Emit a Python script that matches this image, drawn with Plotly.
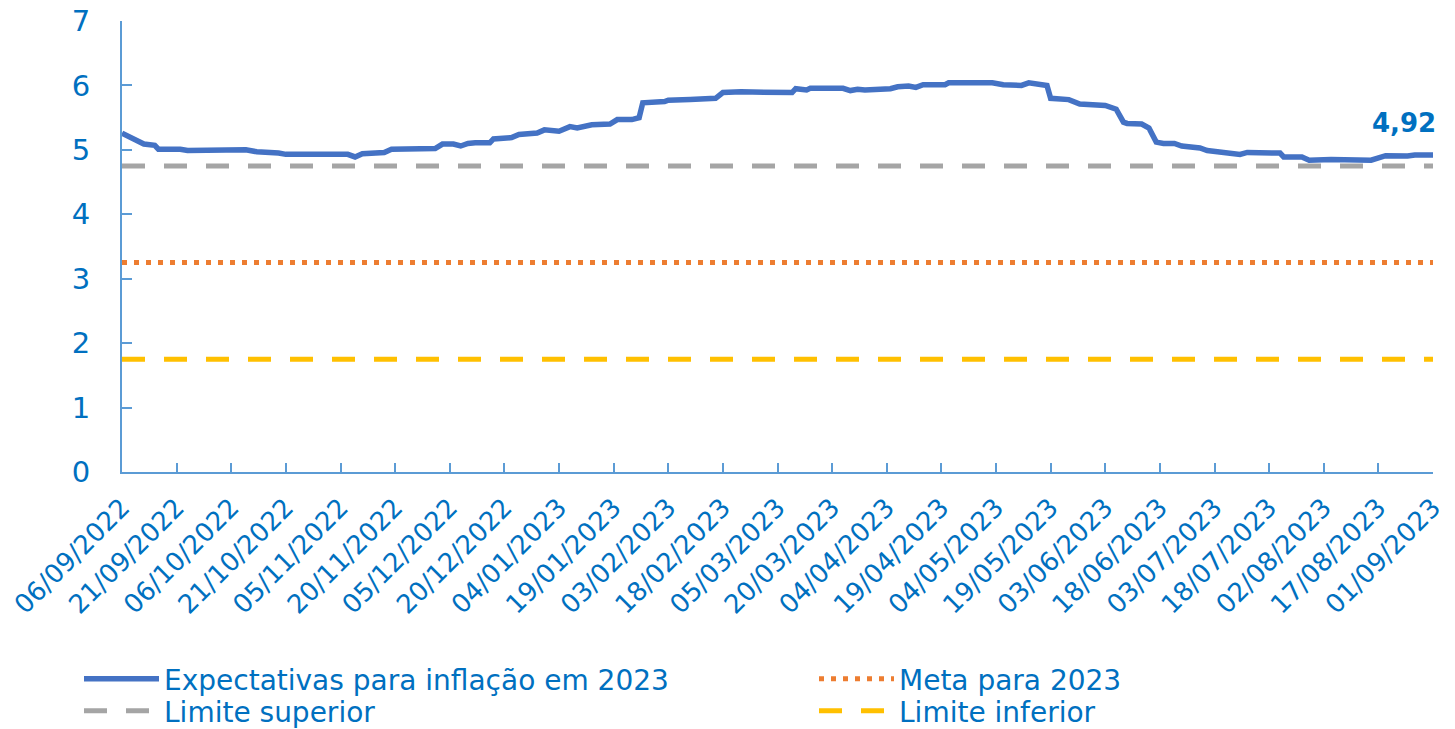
import plotly.graph_objects as go

# ---- data ----
dates = [
    "2022-09-06", "2022-09-12", "2022-09-15", "2022-09-16", "2022-09-22", "2022-09-24",
    "2022-10-10", "2022-10-13", "2022-10-19", "2022-10-21", "2022-11-07", "2022-11-09",
    "2022-11-11", "2022-11-17", "2022-11-19", "2022-12-01", "2022-12-03", "2022-12-06",
    "2022-12-08", "2022-12-10", "2022-12-12", "2022-12-16", "2022-12-17", "2022-12-20",
    "2022-12-22", "2022-12-24", "2022-12-29", "2022-12-31", "2023-01-04", "2023-01-07",
    "2023-01-09", "2023-01-13", "2023-01-18", "2023-01-20", "2023-01-24", "2023-01-26",
    "2023-01-27", "2023-02-02", "2023-02-03", "2023-02-09", "2023-02-14", "2023-02-16",
    "2023-02-18", "2023-02-23", "2023-03-09", "2023-03-10", "2023-03-13", "2023-03-14",
    "2023-03-23", "2023-03-25", "2023-03-27", "2023-03-29", "2023-04-05", "2023-04-07",
    "2023-04-10", "2023-04-12", "2023-04-14", "2023-04-20", "2023-04-21", "2023-04-27",
    "2023-04-28", "2023-05-03", "2023-05-06", "2023-05-11", "2023-05-13", "2023-05-18",
    "2023-05-19", "2023-05-24", "2023-05-27", "2023-05-31", "2023-06-03", "2023-06-06",
    "2023-06-08", "2023-06-09", "2023-06-13", "2023-06-15", "2023-06-17", "2023-06-19",
    "2023-06-22", "2023-06-24", "2023-06-29", "2023-07-01", "2023-07-05", "2023-07-10",
    "2023-07-12", "2023-07-21", "2023-07-22", "2023-07-27", "2023-07-29", "2023-08-04",
    "2023-08-15", "2023-08-17", "2023-08-19", "2023-08-25", "2023-08-27", "2023-09-01",
]
expectativas = [
    5.26, 5.09, 5.07, 5.01, 5.01, 4.99,
    5.00, 4.97, 4.95, 4.93, 4.93, 4.89,
    4.94, 4.96, 5.01, 5.02, 5.09, 5.09,
    5.06, 5.10, 5.11, 5.11, 5.17, 5.19,
    5.19, 5.24, 5.26, 5.31, 5.29, 5.36,
    5.34, 5.39, 5.40, 5.47, 5.47, 5.50,
    5.73, 5.75, 5.77, 5.78, 5.79, 5.80,
    5.89, 5.90, 5.89, 5.95, 5.93, 5.955,
    5.955, 5.92, 5.94, 5.93, 5.95, 5.98,
    5.99, 5.97, 6.01, 6.01, 6.04, 6.04,
    6.05, 6.04, 6.01, 6.00, 6.04, 6.00,
    5.80, 5.78, 5.71, 5.71, 5.69, 5.63,
    5.43, 5.41, 5.40, 5.34, 5.12, 5.10,
    5.10, 5.06, 5.03, 4.99, 4.97, 4.93,
    4.96, 4.95, 4.89, 4.89, 4.84, 4.85,
    4.84, 4.87, 4.91, 4.905, 4.92, 4.92,
]
periodo = ["2022-09-06", "2023-09-01"]
meta = [3.25, 3.25]
limite_superior = [4.75, 4.75]
limite_inferior = [1.75, 1.75]

tick_dates = [
    "2022-09-06", "2022-09-21", "2022-10-06", "2022-10-21", "2022-11-05", "2022-11-20",
    "2022-12-05", "2022-12-20", "2023-01-04", "2023-01-19", "2023-02-03", "2023-02-18",
    "2023-03-05", "2023-03-20", "2023-04-04", "2023-04-19", "2023-05-04", "2023-05-19",
    "2023-06-03", "2023-06-18", "2023-07-03", "2023-07-18", "2023-08-02", "2023-08-17",
    "2023-09-01",
]
tick_labels = [f"{d[8:10]}/{d[5:7]}/{d[0:4]}" for d in tick_dates]

FONT = "DejaVu Sans"
TXT = "#0070C0"
AX = "#5B9BD5"

W, H = 1455, 729
ML, MR, MT = 122, 22, 21
PH = 451
MB = H - MT - PH
PW = W - ML - MR


def px_to_paper_x(px):
    return (px - ML) / PW


def px_to_paper_y(py):
    return (H - MB - py) / PH


fig = go.Figure()
fig.add_trace(go.Scatter(x=dates, y=expectativas, mode="lines",
                         name="Expectativas para inflação em 2023", showlegend=True,
                         line=dict(color="#4472C4", width=5.5), legend="legend"))
fig.add_trace(go.Scatter(x=periodo, y=meta, mode="lines",
                         name="Meta para 2023", showlegend=True,
                         line=dict(color="#ED7D31", width=5, dash="5px,7px"), legend="legend2"))
fig.add_trace(go.Scatter(x=periodo, y=limite_superior, mode="lines",
                         name="Limite superior", showlegend=True,
                         line=dict(color="#A5A5A5", width=5, dash="23px,19px"), legend="legend3"))
fig.add_trace(go.Scatter(x=periodo, y=limite_inferior, mode="lines",
                         name="Limite inferior", showlegend=True,
                         line=dict(color="#FFC000", width=5, dash="23px,19px"), legend="legend4"))

fig.add_annotation(x=dates[-1], y=expectativas[-1],
                   text=f"<b>{expectativas[-1]:.2f}".replace(".", ",") + "</b>",
                   showarrow=False, xanchor="right", yanchor="bottom",
                   xshift=5, yshift=15, font=dict(family=FONT, size=26, color=TXT))

legend_common = dict(font=dict(family=FONT, size=28, color=TXT), bgcolor="rgba(0,0,0,0)",
                     orientation="v", xanchor="left", yanchor="top",
                     itemwidth=75, tracegroupgap=0, visible=True)
COL1, COL2 = 79, 814
ROW1, ROW2 = 654, 686
fig.update_layout(
    width=W, height=H,
    showlegend=True,
    margin=dict(l=ML, r=MR, t=MT, b=MB, autoexpand=False),
    plot_bgcolor="white", paper_bgcolor="white",
    font=dict(family=FONT, color=TXT),
    legend=dict(x=px_to_paper_x(COL1), y=px_to_paper_y(ROW1), **legend_common),
    legend2=dict(x=px_to_paper_x(COL2), y=px_to_paper_y(ROW1), **legend_common),
    legend3=dict(x=px_to_paper_x(COL1), y=px_to_paper_y(ROW2), **legend_common),
    legend4=dict(x=px_to_paper_x(COL2), y=px_to_paper_y(ROW2), **legend_common),
    xaxis=dict(type="date", range=[periodo[0], periodo[1]],
               tickvals=tick_dates, ticktext=tick_labels, tickangle=-45,
               ticks="inside", ticklen=9, tickwidth=2, tickcolor=AX,
               showline=True, linecolor=AX, linewidth=2, showgrid=False, zeroline=False,
               ticklabelstandoff=8, ticklabeloverflow="allow",
               tickfont=dict(family=FONT, size=26, color=TXT)),
    yaxis=dict(range=[0, 7], tickvals=[0, 1, 2, 3, 4, 5, 6, 7],
               ticks="inside", ticklen=10, tickwidth=2, tickcolor=AX,
               showline=True, linecolor=AX, linewidth=2, showgrid=False, zeroline=False,
               ticklabelstandoff=24, ticklabeloverflow="allow",
               tickfont=dict(family=FONT, size=29, color=TXT)),
)

fig.write_html("out.html", config={"displayModeBar": False},
               post_script="document.body.style.margin='0';")
